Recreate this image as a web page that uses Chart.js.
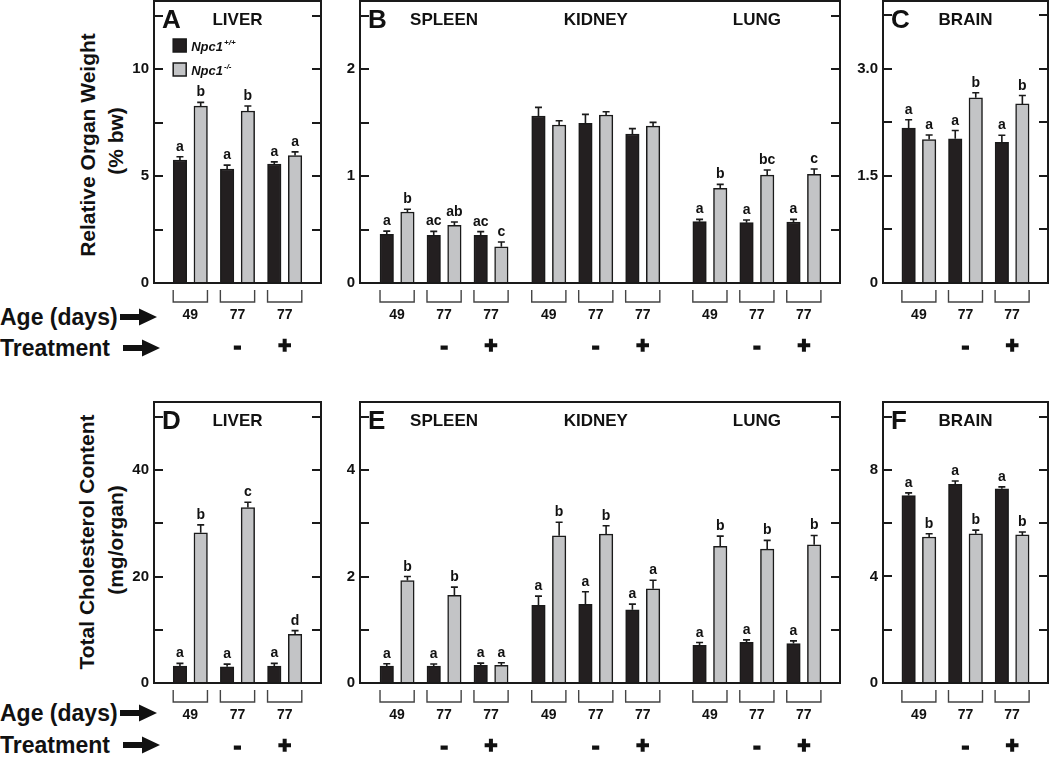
<!DOCTYPE html>
<html>
<head>
<meta charset="utf-8">
<script src="https://cdn.jsdelivr.net/npm/chart.js@4.4.1/dist/chart.umd.min.js"></script>
<style>
body { margin: 0; background: #fff; width: 1050px; height: 758px; position: relative; overflow: hidden;
       font-family: "Liberation Sans", Arial, sans-serif; }
canvas { position: absolute; }
.ytitle { position: absolute; font-weight: bold; font-size: 21px; white-space: nowrap; color: #111;
          transform: translate(-50%, -50%) rotate(-90deg); }
.rowlab { position: absolute; left: 0; font-weight: bold; font-size: 23px; white-space: nowrap; color: #111;
          transform: translateY(-50%); }
svg.arrow { position: absolute; }
</style>
</head>
<body>
<div class="ytitle" style="left:88px;top:145px">Relative Organ Weight</div>
<div class="ytitle" style="left:116px;top:141px">(% bw)</div>
<div class="ytitle" style="left:87px;top:542px">Total Cholesterol Content</div>
<div class="ytitle" style="left:116px;top:540px">(mg/organ)</div>

<div class="rowlab" style="top:317px">Age (days)</div>
<div class="rowlab" style="top:348px">Treatment</div>
<div class="rowlab" style="top:713px">Age (days)</div>
<div class="rowlab" style="top:745px">Treatment</div>

<canvas id="pA"></canvas>
<canvas id="pB"></canvas>
<canvas id="pC"></canvas>
<canvas id="pD"></canvas>
<canvas id="pE"></canvas>
<canvas id="pF"></canvas>

<script>
// x groups under each organ
const ages = ['49', '77', '77'];
const treatments = ['', '-', '+'];
const seriesNames = ['Npc1', 'Npc1'];
const seriesSup = ['+/+', '-/-'];

// A: liver, relative weight (% bw)
const liverWeightWT = [5.75, 5.33, 5.56];
const liverWeightKO = [8.27, 8.04, 5.96];
const liverWeightErrWT = [0.15, 0.18, 0.10];
const liverWeightErrKO = [0.17, 0.23, 0.17];
const liverWeightLetWT = ['a', 'a', 'a'];
const liverWeightLetKO = ['b', 'b', 'a'];

// B: spleen, kidney, lung, relative weight
const organWeightWT = [0.455, 0.446, 0.446, 1.561, 1.492, 1.393, 0.573, 0.564, 0.570];
const organWeightKO = [0.664, 0.539, 0.339, 1.477, 1.570, 1.467, 0.885, 1.009, 1.016];
const organWeightErrWT = [0.030, 0.037, 0.034, 0.081, 0.084, 0.050, 0.022, 0.025, 0.025];
const organWeightErrKO = [0.025, 0.031, 0.044, 0.040, 0.031, 0.034, 0.037, 0.047, 0.050];
const organWeightLetWT = ['a', 'ac', 'ac', '', '', '', 'a', 'a', 'a'];
const organWeightLetKO = ['b', 'ab', 'c', '', '', '', 'b', 'bc', 'c'];

// C: brain, relative weight
const brainWeightWT = [2.169, 2.019, 1.972];
const brainWeightKO = [2.009, 2.594, 2.509];
const brainWeightErrWT = [0.117, 0.117, 0.098];
const brainWeightErrKO = [0.065, 0.070, 0.117];
const brainWeightLetWT = ['a', 'a', 'a'];
const brainWeightLetKO = ['a', 'b', 'b'];

// D: liver, total cholesterol (mg/organ)
const liverCholWT = [3.18, 3.05, 3.18];
const liverCholKO = [28.22, 32.96, 9.16];
const liverCholErrWT = [0.5, 0.5, 0.5];
const liverCholErrKO = [1.5, 1.0, 0.68];
const liverCholLetWT = ['a', 'a', 'a'];
const liverCholLetKO = ['b', 'c', 'd'];

// E: spleen, kidney, lung, total cholesterol
const organCholWT = [0.318, 0.318, 0.330, 1.458, 1.477, 1.377, 0.710, 0.766, 0.741];
const organCholKO = [1.925, 1.645, 0.330, 2.766, 2.798, 1.770, 2.566, 2.517, 2.598];
const organCholErrWT = [0.044, 0.040, 0.044, 0.174, 0.237, 0.106, 0.050, 0.044, 0.050];
const organCholErrKO = [0.075, 0.156, 0.050, 0.255, 0.156, 0.162, 0.193, 0.162, 0.174];
const organCholLetWT = ['a', 'a', 'a', 'a', 'a', 'a', 'a', 'a', 'a'];
const organCholLetKO = ['b', 'b', 'a', 'b', 'b', 'a', 'b', 'b', 'b'];

// F: brain, total cholesterol
const brainCholWT = [7.04, 7.46, 7.29];
const brainCholKO = [5.48, 5.60, 5.56];
const brainCholErrWT = [0.10, 0.125, 0.075];
const brainCholErrKO = [0.125, 0.14, 0.11];
const brainCholLetWT = ['a', 'a', 'a'];
const brainCholLetKO = ['b', 'b', 'b'];

// y ticks
const ticksA = [0, 5, 10],   labelsA = ['0', '5', '10'];
const ticksB = [0, 1, 2],    labelsB = ['0', '1', '2'];
const ticksC = [0, 1.5, 3],  labelsC = ['0', '1.5', '3.0'];
const ticksD = [0, 20, 40],  labelsD = ['0', '20', '40'];
const ticksE = [0, 2, 4],    labelsE = ['0', '2', '4'];
const ticksF = [0, 4, 8],    labelsF = ['0', '4', '8'];

const FONT = '"Liberation Sans", Arial, sans-serif';
const DARK = '#231f20';
const GRAY = '#c3c4c6';
const LINE = '#1a1a1a';
const AXW = 44;          // room for y tick labels
const BAR = 13.5;        // bar thickness px
const HALF = 0.22;       // bar offset from group centre, in group units

function drawArrow(x, y) {
  const ns = 'http://www.w3.org/2000/svg';
  const svg = document.createElementNS(ns, 'svg');
  svg.setAttribute('class', 'arrow');
  svg.setAttribute('width', 38);
  svg.setAttribute('height', 20);
  svg.style.left = x + 'px';
  svg.style.top = (y - 10) + 'px';
  const p = document.createElementNS(ns, 'polygon');
  p.setAttribute('points', '0,7 19,7 19,1.5 37,10 19,18.5 19,13 0,13');
  p.setAttribute('fill', '#111');
  svg.appendChild(p);
  document.body.appendChild(svg);
}
drawArrow(120, 317);
drawArrow(123, 348);
drawArrow(120, 713);
drawArrow(123, 745);

function makePanel(id, c) {
  const nOrg = c.organs.length;
  const orgStart = nOrg === 1 ? [0] : [0, 3.23, 6.66];
  const xs = [];
  c.organs.forEach((o, oi) => ages.forEach((a, k) => xs.push(orgStart[oi] + k)));
  const xmin = nOrg === 1 ? -0.77 : -0.79;
  const xmax = nOrg === 1 ? 2.77 : 9.43;

  const canvasTop = Math.max(0, c.top - 10);
  const padTop = c.top - canvasTop;
  const cv = document.getElementById(id);
  cv.width = c.right - c.left + AXW + 4;
  cv.height = c.zero - canvasTop + 80;
  cv.style.left = (c.left - AXW) + 'px';
  cv.style.top = canvasTop + 'px';

  const panelPlugin = {
    id: 'panelDecor',
    afterDatasetsDraw(chart) {
      const ctx = chart.ctx;
      const area = chart.chartArea;
      const ys = chart.scales.y, xsc = chart.scales.x;
      ctx.save();

      // error bars and letters
      const errs = [c.errWT, c.errKO];
      const lets = [c.letWT, c.letKO];
      const vals = [c.wt, c.ko];
      [0, 1].forEach(d => {
        const meta = chart.getDatasetMeta(d);
        meta.data.forEach((el, i) => {
          const top = ys.getPixelForValue(vals[d][i]);
          const et = ys.getPixelForValue(vals[d][i] + errs[d][i]);
          ctx.strokeStyle = LINE;
          ctx.lineWidth = 1.6;
          ctx.beginPath();
          ctx.moveTo(el.x, top);
          ctx.lineTo(el.x, et);
          ctx.moveTo(el.x - 3.5, et);
          ctx.lineTo(el.x + 3.5, et);
          ctx.stroke();
          if (lets[d][i]) {
            ctx.fillStyle = '#111';
            ctx.font = 'bold 14px ' + FONT;
            ctx.textAlign = 'center';
            ctx.textBaseline = 'alphabetic';
            ctx.fillText(lets[d][i], el.x, et - 6);
          }
        });
      });

      // frame
      ctx.strokeStyle = LINE;
      ctx.lineWidth = 2;
      ctx.strokeRect(area.left, area.top, area.right - area.left, area.bottom - area.top);

      // inward ticks both sides
      ctx.lineWidth = 1.8;
      for (let v = c.minor; v < c.ymax - 1e-9; v += c.minor) {
        const y = Math.round(ys.getPixelForValue(v));
        ctx.beginPath();
        ctx.moveTo(area.left, y); ctx.lineTo(area.left + 9, y);
        ctx.moveTo(area.right, y); ctx.lineTo(area.right - 9, y);
        ctx.stroke();
      }

      // brackets, ages, treatment signs
      xs.forEach((gx, i) => {
        const l = xsc.getPixelForValue(gx - HALF) - BAR / 2;
        const r = xsc.getPixelForValue(gx + HALF) + BAR / 2;
        const yb = area.bottom + 19;
        ctx.strokeStyle = '#444';
        ctx.lineWidth = 1.4;
        ctx.beginPath();
        ctx.moveTo(l, area.bottom + 7); ctx.lineTo(l, yb); ctx.lineTo(r, yb); ctx.lineTo(r, area.bottom + 7);
        ctx.stroke();
        const cx = xsc.getPixelForValue(gx);
        ctx.fillStyle = '#111';
        ctx.textAlign = 'center';
        ctx.textBaseline = 'middle';
        ctx.font = 'bold 14px ' + FONT;
        ctx.fillText(ages[i % 3], cx, area.bottom + 32);
        const t = treatments[i % 3];
        if (t) {
          ctx.font = 'bold 22px ' + FONT;
          ctx.strokeStyle = '#111';
          ctx.lineWidth = 1.6;
          ctx.fillText(t, cx, area.bottom + 64);
          ctx.strokeText(t, cx, area.bottom + 64);
        }
      });

      // panel letter and organ titles
      ctx.fillStyle = '#111';
      ctx.textAlign = 'left';
      ctx.textBaseline = 'alphabetic';
      ctx.font = 'bold 26px ' + FONT;
      ctx.fillText(c.letter, area.left + 8, area.top + 27);
      ctx.font = 'bold 17px ' + FONT;
      ctx.textAlign = 'center';
      c.organs.forEach((o, oi) => {
        ctx.fillText(o, xsc.getPixelForValue(xs[oi * 3 + 1]), area.top + 24);
      });

      // legend
      if (c.legend) {
        const lx = xsc.getPixelForValue(xs[0] - HALF) - BAR / 2;
        [DARK, GRAY].forEach((col, k) => {
          const ly = area.top + 38 + k * 24;
          ctx.fillStyle = col;
          ctx.fillRect(lx, ly, 13, 13);
          ctx.strokeStyle = LINE;
          ctx.lineWidth = 1.5;
          ctx.strokeRect(lx, ly, 13, 13);
          ctx.fillStyle = '#111';
          ctx.textAlign = 'left';
          ctx.font = 'italic bold 13px ' + FONT;
          ctx.fillText(seriesNames[k], lx + 18, ly + 12);
          const w = ctx.measureText(seriesNames[k]).width;
          ctx.font = 'italic bold 8px ' + FONT;
          ctx.fillText(seriesSup[k], lx + 19 + w, ly + 6);
        });
      }
      ctx.restore();
    }
  };

  return new Chart(cv, {
    type: 'bar',
    data: {
      datasets: [
        { data: c.wt.map((v, i) => ({ x: xs[i] - HALF, y: v })), backgroundColor: DARK },
        { data: c.ko.map((v, i) => ({ x: xs[i] + HALF, y: v })), backgroundColor: GRAY }
      ]
    },
    options: {
      responsive: false,
      animation: false,
      layout: { padding: { top: padTop, right: 4, bottom: 80, left: 0 } },
      datasets: { bar: { grouped: false, barThickness: BAR, borderColor: LINE, borderWidth: 1.5 } },
      plugins: { legend: { display: false }, tooltip: { enabled: false } },
      scales: {
        x: { type: 'linear', display: false, min: xmin, max: xmax, offset: false },
        y: {
          min: 0, max: c.ymax,
          grid: { display: false, drawTicks: false },
          border: { display: false },
          afterFit: s => { s.width = AXW; s.paddingTop = 0; s.paddingBottom = 0; },
          afterBuildTicks: s => { s.ticks = c.ticks.map(v => ({ value: v })); },
          ticks: {
            color: '#111', padding: 5,
            font: { family: FONT, size: 15, weight: 'bold' },
            callback: v => c.labels[c.ticks.indexOf(v)]
          }
        }
      }
    },
    plugins: [panelPlugin]
  });
}

makePanel('pA', { left: 154, right: 321, top: 1, zero: 283, ymax: 13.18, minor: 2.5,
  ticks: ticksA, labels: labelsA, letter: 'A', organs: ['LIVER'], legend: true,
  wt: liverWeightWT, ko: liverWeightKO, errWT: liverWeightErrWT, errKO: liverWeightErrKO,
  letWT: liverWeightLetWT, letKO: liverWeightLetKO });
makePanel('pB', { left: 360, right: 840, top: 1, zero: 283, ymax: 2.636, minor: 0.5,
  ticks: ticksB, labels: labelsB, letter: 'B', organs: ['SPLEEN', 'KIDNEY', 'LUNG'],
  wt: organWeightWT, ko: organWeightKO, errWT: organWeightErrWT, errKO: organWeightErrKO,
  letWT: organWeightLetWT, letKO: organWeightLetKO });
makePanel('pC', { left: 883, right: 1048, top: 1, zero: 283, ymax: 3.95, minor: 0.75,
  ticks: ticksC, labels: labelsC, letter: 'C', organs: ['BRAIN'],
  wt: brainWeightWT, ko: brainWeightKO, errWT: brainWeightErrWT, errKO: brainWeightErrKO,
  letWT: brainWeightLetWT, letKO: brainWeightLetKO });
makePanel('pD', { left: 154, right: 321, top: 402, zero: 683, ymax: 52.8, minor: 10,
  ticks: ticksD, labels: labelsD, letter: 'D', organs: ['LIVER'],
  wt: liverCholWT, ko: liverCholKO, errWT: liverCholErrWT, errKO: liverCholErrKO,
  letWT: liverCholLetWT, letKO: liverCholLetKO });
makePanel('pE', { left: 360, right: 840, top: 402, zero: 683, ymax: 5.28, minor: 1,
  ticks: ticksE, labels: labelsE, letter: 'E', organs: ['SPLEEN', 'KIDNEY', 'LUNG'],
  wt: organCholWT, ko: organCholKO, errWT: organCholErrWT, errKO: organCholErrKO,
  letWT: organCholLetWT, letKO: organCholLetKO });
makePanel('pF', { left: 883, right: 1048, top: 402, zero: 683, ymax: 10.55, minor: 2,
  ticks: ticksF, labels: labelsF, letter: 'F', organs: ['BRAIN'],
  wt: brainCholWT, ko: brainCholKO, errWT: brainCholErrWT, errKO: brainCholErrKO,
  letWT: brainCholLetWT, letKO: brainCholLetKO });
</script>
</body>
</html>
